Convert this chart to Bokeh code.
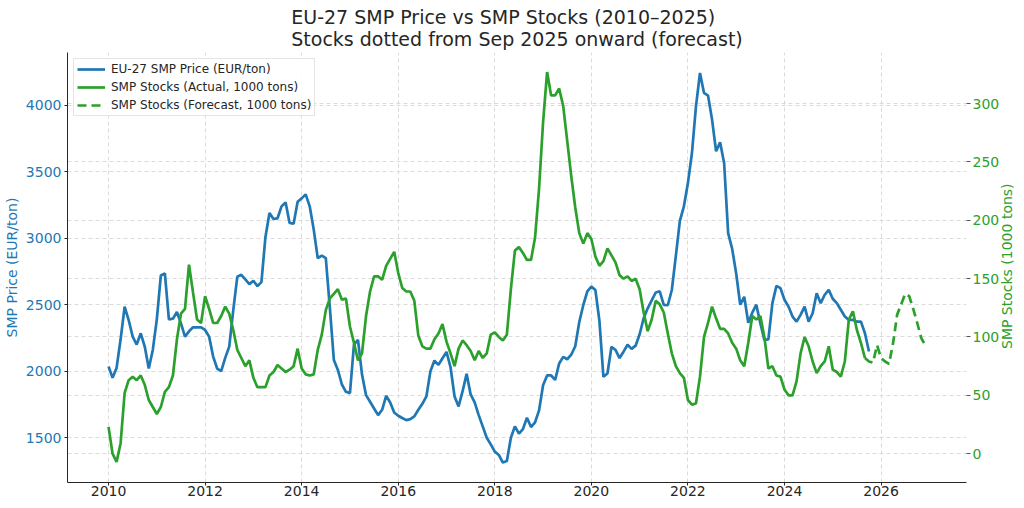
from bokeh.plotting import figure
from bokeh.models import Range1d, LinearAxis, FixedTicker, Grid, Legend, LegendItem, Div
from bokeh.layouts import row
from bokeh.embed import file_html
from bokeh.resources import INLINE

# ---- data (monthly, Jan 2010 onward) ----
start_year = 2010
price = [
    2035, 1950, 2025, 2240, 2485, 2385, 2260, 2200, 2285, 2185, 2020, 2160,   # 2010
    2390, 2720, 2735, 2390, 2395, 2445, 2360, 2260, 2300, 2330, 2330, 2330,   # 2011
    2310, 2260, 2110, 2020, 2000, 2100, 2185, 2460, 2710, 2725, 2690, 2655,   # 2012
    2680, 2640, 2670, 3010, 3190, 3145, 3150, 3240, 3270, 3115, 3110, 3275,   # 2013
    3300, 3330, 3240, 3065, 2850, 2870, 2850, 2480, 2085, 2010, 1900, 1845,   # 2014
    1835, 2200, 2235, 1975, 1820, 1770, 1720, 1670, 1710, 1815, 1765, 1690,   # 2015
    1665, 1648, 1632, 1640, 1660, 1710, 1755, 1810, 2000, 2080, 2048, 2098,   # 2016
    2145, 2030, 1810, 1735, 1850, 1980, 1825, 1765, 1670, 1585, 1500, 1450,   # 2017
    1395, 1370, 1313, 1324, 1500, 1585, 1530, 1565, 1650, 1580, 1615, 1705,   # 2018
    1895, 1968, 1968, 1935, 2058, 2108, 2090, 2124, 2188, 2370, 2498, 2600,   # 2019
    2636, 2611, 2380, 1958, 1983, 2184, 2160, 2099, 2147, 2199, 2168, 2192,   # 2020
    2278, 2398, 2473, 2532, 2592, 2601, 2499, 2496, 2611, 2868, 3130, 3240,   # 2021
    3415, 3641, 3992, 4243, 4093, 4073, 3892, 3654, 3721, 3566, 3038, 2920,   # 2022
    2735, 2500, 2560, 2365, 2440, 2500, 2361, 2236, 2240, 2512, 2642, 2625,   # 2023
    2537, 2486, 2411, 2373, 2424, 2486, 2373, 2436, 2587, 2512, 2575, 2612,   # 2024
    2545, 2512, 2462, 2411, 2386, 2386, 2373, 2373, 2286, 2148,               # 2025
]
stocks_actual = [
    23, 0, -7, 9, 52, 63, 66, 63, 67, 59, 46, 40,                 # 2010
    34, 40, 53, 57, 67, 98, 120, 124, 162, 138, 115, 112,         # 2011
    135, 124, 112, 112, 118, 126, 120, 106, 89, 82, 75, 80,       # 2012
    65, 57, 57, 57, 67, 70, 76, 73, 70, 72, 75, 90,               # 2013
    73, 68, 67, 68, 89, 102, 123, 133, 137, 141, 132, 133,        # 2014
    109, 95, 80, 86, 118, 139, 152, 152, 149, 161, 167, 173,      # 2015
    155, 142, 139, 139, 131, 101, 92, 90, 90, 98, 103, 111,       # 2016
    96, 86, 75, 90, 97, 93, 88, 80, 88, 82, 86, 102,              # 2017
    104, 100, 97, 102, 141, 174, 177, 172, 166, 166, 185, 227,    # 2018
    284, 327, 307, 307, 313, 298, 268, 238, 211, 189, 180, 189,   # 2019
    184, 169, 161, 165, 176, 170, 164, 153, 150, 152, 148, 150,   # 2020
    141, 121, 105, 115, 131, 128, 121, 103, 86, 75, 69, 65,       # 2021
    46, 42, 43, 66, 100, 112, 126, 116, 107, 107, 103, 95,        # 2022
    90, 80, 75, 95, 118, 115, 118, 100, 73, 75, 67, 66,           # 2023
    55, 50, 50, 62, 86, 100, 92, 79, 69, 75, 79, 92,              # 2024
    72, 70, 66, 79, 115, 122, 106, 95, 82,                        # 2025 (to Sep)
]
forecast_start_index = 188   # Sep 2025
stocks_forecast = [82, 79, 78, 93, 82, 79, 77, 95, 119, 128, 137, 135, 124, 112, 99, 93]
x_ticks = [2010, 2012, 2014, 2016, 2018, 2020, 2022, 2024, 2026]
price_ticks = [1500, 2000, 2500, 3000, 3500, 4000]
stock_ticks = [0, 50, 100, 150, 200, 250, 300]

x_price = [start_year + i / 12 for i in range(len(price))]
x_stock = [start_year + i / 12 for i in range(len(stocks_actual))]
x_fc = [start_year + (forecast_start_index + i) / 12 for i in range(len(stocks_forecast))]

BLUE = "#1f77b4"
GREEN = "#2ca02c"
FONT = "DejaVu Sans"
X0, X1 = 2009.15, 2027.77
P0, P1 = 1163, 4397

p = figure(width=1002, height=500, output_backend="svg", toolbar_location=None,
           x_range=Range1d(X0, X1), y_range=Range1d(P0, P1),
           min_border_left=60, min_border_right=33, min_border_top=52, min_border_bottom=18)
p.extra_y_ranges = {"stocks": Range1d(-24.7, 343.8)}
p.outline_line_color = None
p.background_fill_color = "white"

p.title.text = "EU-27 SMP Price vs SMP Stocks (2010\u20132025)\nStocks dotted from Sep 2025 onward (forecast)"
p.title.align = "center"
p.title.text_font = FONT
p.title.text_font_size = "19px"
p.title.text_font_style = "normal"
p.title.text_color = "#262626"
p.title.text_line_height = 1.0
p.title.standoff = 5

grid_dash = "4 3"
grid_color = "#d2d2d2"

# x axis
p.xaxis.ticker = FixedTicker(ticks=x_ticks)
p.xaxis.major_label_text_font = FONT
p.xaxis.major_label_text_font_size = "14px"
p.xaxis.major_label_text_color = "#262626"
p.xaxis.axis_line_color = "#262626"
p.xaxis.major_tick_line_color = "#262626"
p.xaxis.major_tick_out = 3
p.xaxis.major_tick_in = 0
p.xaxis.minor_tick_line_color = None
p.xaxis.major_label_standoff = 0

# left axis
pt = FixedTicker(ticks=price_ticks)
p.yaxis.ticker = pt
p.yaxis.axis_label = "SMP Price (EUR/ton)"
p.yaxis.axis_label_text_color = BLUE
p.yaxis.axis_label_text_font = FONT
p.yaxis.axis_label_text_font_size = "14px"
p.yaxis.axis_label_text_font_style = "normal"
p.yaxis.major_label_text_color = BLUE
p.yaxis.major_label_text_font = FONT
p.yaxis.major_label_text_font_size = "14px"
p.yaxis.axis_line_color = "#262626"
p.yaxis.major_tick_line_color = "#262626"
p.yaxis.major_tick_out = 3
p.yaxis.major_tick_in = 0
p.yaxis.minor_tick_line_color = None
p.yaxis.major_label_standoff = 3
p.yaxis.axis_label_standoff = 3

# right axis (its title is drawn in the narrow column to the right so it reads bottom-to-top)
st = FixedTicker(ticks=stock_ticks)
ra = LinearAxis(y_range_name="stocks", ticker=st)
ra.major_label_text_color = GREEN
ra.major_label_text_font = FONT
ra.major_label_text_font_size = "14px"
ra.axis_line_color = None
ra.major_tick_line_color = "#555555"
ra.major_tick_out = 4
ra.major_tick_in = 0
ra.minor_tick_line_color = None
ra.major_label_standoff = 2
p.add_layout(ra, "right")

# grids
for g in (p.xgrid, p.ygrid):
    g.grid_line_color = grid_color
    g.grid_line_dash = grid_dash
    g.grid_line_width = 0.8
p.xgrid.ticker = p.xaxis.ticker
p.ygrid.ticker = pt
g2 = Grid(dimension=1, ticker=st, y_range_name="stocks",
          grid_line_color=grid_color, grid_line_dash=grid_dash, grid_line_width=0.8)
p.add_layout(g2)

# lines
r1 = p.line(x_price, price, line_color=BLUE, line_width=2.7)
r2 = p.line(x_stock, stocks_actual, line_color=GREEN, line_width=2.7, y_range_name="stocks")
r3 = p.line(x_fc, stocks_forecast, line_color=GREEN, line_width=2.7, line_dash="9 5",
            y_range_name="stocks")

legend = Legend(items=[
    LegendItem(label="EU-27 SMP Price (EUR/ton)", renderers=[r1]),
    LegendItem(label="SMP Stocks (Actual, 1000 tons)", renderers=[r2]),
    LegendItem(label="SMP Stocks (Forecast, 1000 tons)", renderers=[r3]),
], location="top_left")
legend.label_text_font = FONT
legend.label_text_font_size = "12px"
legend.label_text_color = "#262626"
legend.glyph_width = 28
legend.glyph_height = 14
legend.label_height = 14
legend.spacing = 4
legend.padding = 3
legend.margin = 6
legend.label_standoff = 6
legend.border_line_color = "#cccccc"
legend.background_fill_alpha = 0.85
p.add_layout(legend)

right_title = Div(
    text=('<div style="position:relative; left:-8px; margin-top:46px; height:430px; '
          'width:17px; writing-mode:vertical-rl; transform:rotate(180deg); '
          'text-align:center; white-space:nowrap; overflow:visible; '
          'font-family:\'DejaVu Sans\'; font-size:14px; line-height:17px; color:%s;">'
          'SMP Stocks (1000 tons)</div>' % GREEN),
    width=6, height=500, styles={"overflow": "visible"})

layout = row(p, right_title, spacing=0)
open("out.html", "w").write(file_html(layout, INLINE))
